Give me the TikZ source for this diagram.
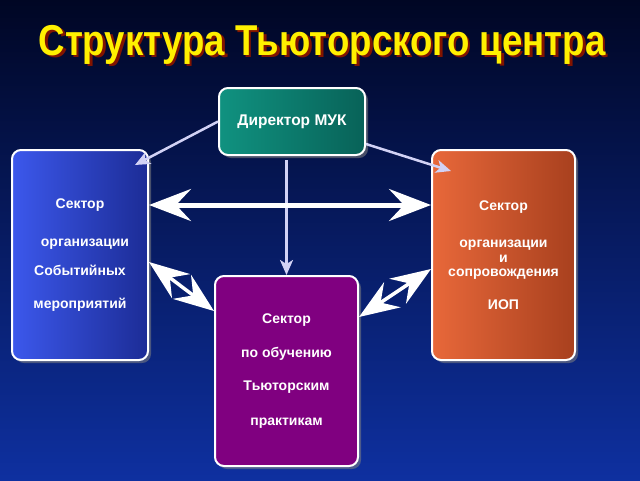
\documentclass[tikz,border=0pt]{standalone}
\usepackage{fontspec}
\setmainfont{Liberation Sans}
\usetikzlibrary{arrows.meta,shadows}
\definecolor{bgtop}{RGB}{0,6,36}
\definecolor{bgmid}{RGB}{8,38,130}
\definecolor{bgbot}{RGB}{14,48,160}
\definecolor{linkcol}{RGB}{210,210,245}
\definecolor{titlecol}{RGB}{255,240,0}
\definecolor{titleshd}{RGB}{130,20,0}
\begin{document}
\begin{tikzpicture}[x=1pt, y=-1pt,
    box/.style={draw=white, line width=2pt, rounded corners=9pt, align=center, text=white,
        font=\fontsize{14}{16.5}\selectfont\bfseries,
        drop shadow={shadow xshift=3pt, shadow yshift=-3pt, opacity=0.55}},
    down/.style={draw=linkcol, line width=2.5pt, -{Stealth[length=15pt, width=13pt, inset=4pt]}},
    both/.style={draw=white, line width=5pt, {Stealth[length=42pt, width=32pt, inset=15pt]}-{Stealth[length=42pt, width=32pt, inset=15pt]}},
    side/.style={draw=white, line width=3.5pt, {Stealth[length=40pt, width=30pt, inset=14pt]}-{Stealth[length=40pt, width=30pt, inset=14pt]}}]
    \shade[top color=bgtop, middle color=bgmid, bottom color=bgbot] (0,0) rectangle (640,480);
    \useasboundingbox (0,0) rectangle (640,480);
    \def \ttl {\fontsize{40}{40}\selectfont\bfseries\scalebox{0.915}[1.08]{Структура Тьюторского центра}}
    \node[text=titlecol] (title) at (322,46) {\rlap{\hspace{2.5pt}\raisebox{-2.5pt}{\color{titleshd}\ttl}}\ttl};
    \node[box, font=\fontsize{15.5}{18}\selectfont\bfseries,
        left color={rgb,255:red,16;green,146;blue,128}, right color={rgb,255:red,8;green,98;blue,88},
        minimum width=146pt, minimum height=67pt] (dir) at (292,121.5) {Директор МУК};
    \node[box, left color={rgb,255:red,60;green,88;blue,236}, right color={rgb,255:red,28;green,44;blue,150},
        minimum width=136pt, minimum height=210pt] (events) at (80,255)
        {Сектор\\[21pt]\hspace{10pt}организации\\[13pt]Событийных\\[16pt]мероприятий};
    \node[box, left color={rgb,255:red,232;green,104;blue,58}, right color={rgb,255:red,168;green,64;blue,30},
        minimum width=143pt, minimum height=210pt] (iop) at (503.5,255)
        {Сектор\\[21pt]организации\\[-2pt]и\\[-2pt]сопровождения\\[16pt]ИОП};
    \node[box, fill={rgb,255:red,128;green,0;blue,128},
        minimum width=143pt, minimum height=190pt] (tutor) at (286.5,371)
        {Сектор\\[18pt]по обучению\\[16pt]Тьюторским\\[19pt]практикам};
    \draw[down] (dir.west) -- ([xshift=-14pt, yshift=-16pt]events.north east);
    \draw[down] ([yshift=12pt]dir.south east) -- ([xshift=20pt, yshift=-22pt]iop.north west);
    \draw[down] ([yshift=-4pt]dir.south -| tutor.north) -- (tutor.north);
    \draw[both] ([yshift=50pt]events.east) -- ([yshift=50pt]iop.west);
    \draw[side] ([yshift=-7pt]events.east) -- ([yshift=-36pt]tutor.north west);
    \draw[side] ([yshift=-14pt]iop.west) -- ([yshift=-42pt]tutor.north east);
\end{tikzpicture}
\end{document}
